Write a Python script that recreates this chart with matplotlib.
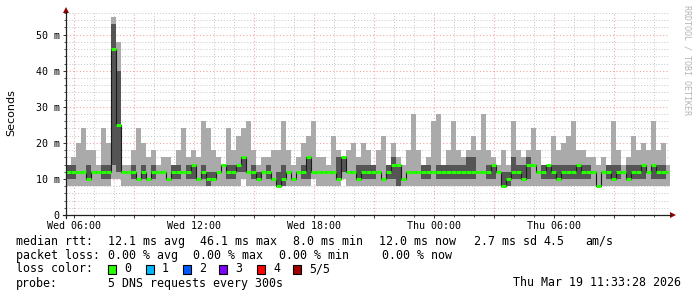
import numpy as np
import matplotlib
matplotlib.use("Agg")
import matplotlib.pyplot as plt
from matplotlib.ticker import MultipleLocator
from matplotlib.patches import Rectangle, Polygon
from matplotlib.lines import Line2D

# ---- data: 15-minute columns starting Wed 05:36 (hours since Wed 00:00) ----
start_hour = 5.6
step_hours = 0.25

hi = [14,16,20,24,18,18,14,24,20,55,48,14,14,18,24,20,16,18,14,16,
      16,14,18,24,16,18,16,26,24,18,16,14,24,18,22,24,26,18,14,16,
      16,18,18,26,18,14,16,20,22,26,16,16,14,22,18,16,18,20,16,20,
      18,14,18,22,14,20,16,14,18,28,18,14,16,26,28,14,18,26,18,16,
      18,22,18,28,18,16,14,18,14,26,18,16,18,24,18,14,14,22,18,20,
      22,26,18,18,16,16,14,16,14,26,18,14,16,22,18,20,18,26,18,20,14]
q3 = [14,14,12,12,14,12,12,14,14,53,40,12,12,14,10,14,10,14,12,12,
      10,14,14,12,14,14,10,14,12,12,12,14,14,14,14,16,12,14,12,12,
      14,10,12,14,12,10,12,14,16,12,12,12,12,12,16,16,12,12,14,14,
      14,14,12,10,14,16,14,10,12,12,12,14,14,12,14,14,14,14,14,14,
      16,16,12,12,14,14,12,12,12,16,14,14,16,14,12,14,14,14,14,14,
      14,14,14,14,14,12,8,12,14,14,14,12,14,14,14,14,12,14,14,14,12]
med = [12,12,12,12,10,12,12,12,12,46,25,12,12,12,10,12,10,12,12,12,
       10,12,12,12,12,14,10,12,10,10,12,14,12,12,14,16,12,12,10,12,
       12,10,8,10,12,10,12,12,16,12,12,12,12,12,10,16,12,12,10,12,
       12,12,12,10,12,14,14,10,12,12,12,12,12,12,12,12,12,12,12,12,
       12,12,12,12,12,14,12,8,10,12,12,10,14,14,12,12,14,12,10,12,
       12,12,14,12,12,12,8,12,12,10,12,12,10,12,12,14,12,14,12,12,12]
q1 = [10,10,12,12,10,12,12,10,10,14,12,12,12,10,10,10,10,10,12,12,
      10,10,10,12,10,10,10,10,8,10,12,14,10,10,12,12,12,10,10,12,
      10,10,8,8,12,10,12,10,10,12,12,12,12,12,10,12,12,12,10,10,
      10,10,12,10,10,10,8,10,12,12,12,10,10,12,10,10,10,10,10,10,
      10,10,12,12,10,10,12,8,8,10,10,10,10,14,12,10,10,10,10,10,
      10,10,10,10,10,12,8,12,10,10,10,12,10,10,10,10,12,10,10,10,12]
lo = [8,8,8,8,8,8,8,8,8,10,10,8,8,8,8,8,8,8,8,8,
      8,8,8,8,8,8,8,8,8,8,8,8,8,8,8,10,8,8,8,8,
      8,8,8,8,8,8,8,8,8,10,8,8,8,8,8,10,8,8,8,8,
      8,8,8,8,8,8,8,8,8,8,8,8,8,8,8,8,8,8,8,8,
      8,8,8,8,8,8,8,8,8,8,8,8,8,8,8,8,8,8,8,8,
      8,8,8,8,8,8,8,8,8,8,8,8,8,8,8,8,8,8,8,8,8]

x_ticks = [6, 12, 18, 24, 30]
x_labels = ["Wed 06:00", "Wed 12:00", "Wed 18:00", "Thu 00:00", "Thu 06:00"]
y_ticks = [0, 10, 20, 30, 40, 50]
y_labels = ["0", "10 m", "20 m", "30 m", "40 m", "50 m"]

loss_labels = ["0", "1", "2", "3", "4", "5/5"]
loss_colors = ["#26ff00", "#00b8ff", "#0059ff", "#7e00ff", "#ff0000", "#a10000"]

# ---- figure ----
W, H = 697, 297
MONO = "DejaVu Sans Mono"
fig = plt.figure(figsize=(W / 100, H / 100), dpi=100)
fig.patch.set_facecolor("white")

def fx(x):
    return x / W

def fy(y):
    return 1 - y / H

ax = fig.add_axes([fx(66), fy(215), 603 / W, 202 / H])
ax.set_facecolor("white")

n = len(med)
edges = start_hour + step_hours * np.arange(n + 1)
lo_a = np.r_[lo, lo[-1]]
hi_a = np.r_[hi, hi[-1]]
q1_a = np.r_[q1, q1[-1]]
q3_a = np.r_[q3, q3[-1]]
med_a = np.r_[med, med[-1]]

ax.fill_between(edges, lo_a, hi_a, step="post", color="#aaaaaa", lw=0, zorder=2)
ax.fill_between(edges, q1_a, q3_a, step="post", color="#555555", lw=0, zorder=3)
ax.step(edges, med_a, where="post", color="#1a1a1a", lw=0.8, zorder=4)
ax.hlines(med, edges[:-1] + 0.02, edges[1:] - 0.02, color="#26ff00", lw=2.2, zorder=5)

ax.set_xlim(5.6, 35.75)
ax.set_ylim(0, 56)

ax.xaxis.set_major_locator(MultipleLocator(3))
ax.xaxis.set_minor_locator(MultipleLocator(1))
ax.yaxis.set_major_locator(MultipleLocator(10))
ax.yaxis.set_minor_locator(MultipleLocator(2))

ax.grid(which="major", color="#f4a6a6", linestyle=(0, (1, 2)), lw=0.8, zorder=1)
ax.grid(which="minor", color="#c4c4c4", linestyle=(0, (1, 2)), lw=0.7, zorder=1)
ax.set_axisbelow(True)

ax.set_xticks(x_ticks, minor=False)
ax.xaxis.set_major_locator(MultipleLocator(3))
labels_by_tick = dict(zip(x_ticks, x_labels))
ax.xaxis.set_major_formatter(matplotlib.ticker.FuncFormatter(
    lambda v, p: labels_by_tick.get(int(round(v)), "") if abs(v - round(v)) < 1e-6 else ""))
ax.set_yticks(y_ticks, y_labels)

for lab in ax.get_xticklabels() + ax.get_yticklabels():
    lab.set_fontfamily(MONO)
    lab.set_fontsize(7.2)

ax.tick_params(axis="both", which="major", direction="out", length=2.5, width=0.7,
               color="#333333", pad=2.0, labelsize=7.2)
ax.tick_params(axis="both", which="minor", direction="out", length=1.5, width=0.6,
               color="#333333")
ax.tick_params(axis="x", which="major", pad=1.8)

for s in ax.spines.values():
    s.set_visible(False)

# axis lines with arrows
fig.add_artist(Line2D([fx(66), fx(66)], [fy(218), fy(11)], color="#202020", lw=0.9))
fig.add_artist(Line2D([fx(63), fx(671)], [fy(215), fy(215)], color="#202020", lw=0.9))
fig.add_artist(Polygon([[fx(66), fy(7)], [fx(63), fy(13)], [fx(69), fy(13)]],
                       closed=True, color="#990000", lw=0))
fig.add_artist(Polygon([[fx(676), fy(215)], [fx(670), fy(212)], [fx(670), fy(218)]],
                       closed=True, color="#990000", lw=0))

# y label and watermark
fig.text(fx(11), fy(113), "Seconds", rotation=90, ha="center", va="center",
         fontsize=8, family="DejaVu Sans", color="black")
fig.text(fx(687), fy(60), "RRDTOOL / TOBI OETIKER", rotation=270, ha="center",
         va="center", fontsize=6, family=MONO, color="#b4b4b4")

# legend
FS = 8.4
def t(x, y, s):
    fig.text(fx(x), fy(y), s, ha="left", va="center", fontsize=FS, family=MONO, color="black")

y1, y2, y3, y4 = 241.3, 255.3, 268.7, 283.0
for x, s in [(16, "median rtt:"), (108, "12.1 ms avg"), (200, "46.1 ms max"),
             (293, "8.0 ms min"), (379, "12.0 ms now"), (474, "2.7 ms sd"),
             (543, "4.5"), (585, "am/s")]:
    t(x, y1, s)
for x, s in [(16, "packet loss:"), (108, "0.00 % avg"), (193, "0.00 % max"),
             (279, "0.00 % min"), (382, "0.00 % now")]:
    t(x, y2, s)
t(16, y3, "loss color:")
box_x = [108, 146, 183, 219, 257, 293]
for bx, lab, col in zip(box_x, loss_labels, loss_colors):
    fig.add_artist(Rectangle((fx(bx), fy(273.5)), 8 / W, 9 / H, facecolor=col,
                             edgecolor="black", lw=0.8))
    t(bx + 16, y3, lab)
t(16, y4, "probe:")
t(108, y4, "5 DNS requests every 300s")
t(513, y4, "Thu Mar 19 11:33:28 2026")

fig.savefig("out.png", dpi=100, facecolor="white")
